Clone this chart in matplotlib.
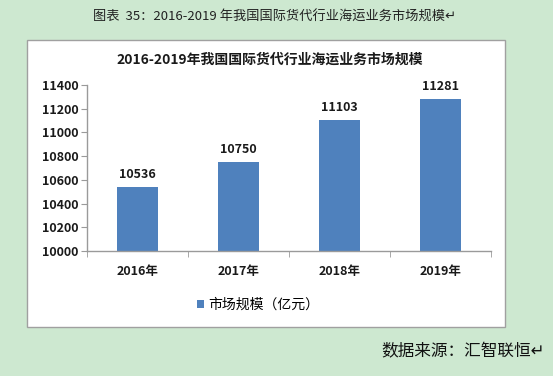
import matplotlib.pyplot as plt
from matplotlib.patches import Rectangle

plt.rcParams['font.family'] = ['Noto Sans CJK SC', 'DejaVu Sans']

years = ['2016年', '2017年', '2018年', '2019年']
market_size = [10536, 10750, 11103, 11281]
y_ticks = [10000, 10200, 10400, 10600, 10800, 11000, 11200, 11400]

bg_green = '#cde8d0'
bar_blue = '#4f81bd'
axis_grey = '#9a9a9a'

fig = plt.figure(figsize=(5.53, 3.76), dpi=100, facecolor=bg_green)

# white chart panel, kept behind the axes
panel = Rectangle((27 / 553, 1 - 327 / 376), (505 - 27) / 553, (327 - 40) / 376,
                  transform=fig.transFigure, facecolor='white', edgecolor='#a0a0a0',
                  linewidth=1.0, zorder=-5)
fig.patches.append(panel)

ax = fig.add_axes([87 / 553, 1 - 251 / 376, (491 - 87) / 553, (251 - 85) / 376])
ax.set_facecolor('none')
ax.set_zorder(2)

x = list(range(len(years)))
bars = ax.bar(x, market_size, width=0.4, color=bar_blue, label='市场规模（亿元）', zorder=2)

for xi, v in zip(x, market_size):
    ax.text(xi, v + 55, str(v), ha='center', va='bottom', fontsize=9,
            fontweight='bold', color='#1a1a1a')

ax.set_ylim(10000, 11400)
ax.set_xlim(-0.5, len(years) - 0.5)
ax.set_yticks(y_ticks)
ax.set_yticklabels([str(t) for t in y_ticks], fontsize=9, fontweight='bold', color='#1a1a1a')
ax.set_xticks(x)
ax.set_xticklabels(years, fontsize=9, fontweight='bold', color='#1a1a1a')
ax.set_xticks([i - 0.5 for i in range(len(years) + 1)], minor=True)
ax.tick_params(axis='x', which='major', length=0, pad=10)
ax.tick_params(axis='x', which='minor', length=4, color=axis_grey, direction='out')
ax.tick_params(axis='y', length=4, color=axis_grey, direction='out', pad=2)

for s in ['top', 'right']:
    ax.spines[s].set_visible(False)
for s in ['left', 'bottom']:
    ax.spines[s].set_color(axis_grey)
    ax.spines[s].set_linewidth(1.0)

leg = ax.legend(loc='center', bbox_to_anchor=(258 / 553, 1 - 305 / 376),
                bbox_transform=fig.transFigure, frameon=False, fontsize=10,
                handlelength=0.55, handleheight=0.55, handletextpad=0.3)

fig.text(270 / 553, 1 - 60 / 376, '2016-2019年我国国际货代行业海运业务市场规模',
         ha='center', va='center', fontsize=10, fontweight='bold', color='#1a1a1a')

fig.text(275 / 553, 1 - 17 / 376, '图表  35：2016-2019 年我国国际货代行业海运业务市场规模↵',
         ha='center', va='center', fontsize=9.5, color='#222222')

fig.text(545 / 553, 1 - 352 / 376, '数据来源：汇智联恒↵', ha='right', va='center',
         fontsize=12, color='#111111')

fig.savefig('out.png', dpi=100, facecolor=bg_green)
